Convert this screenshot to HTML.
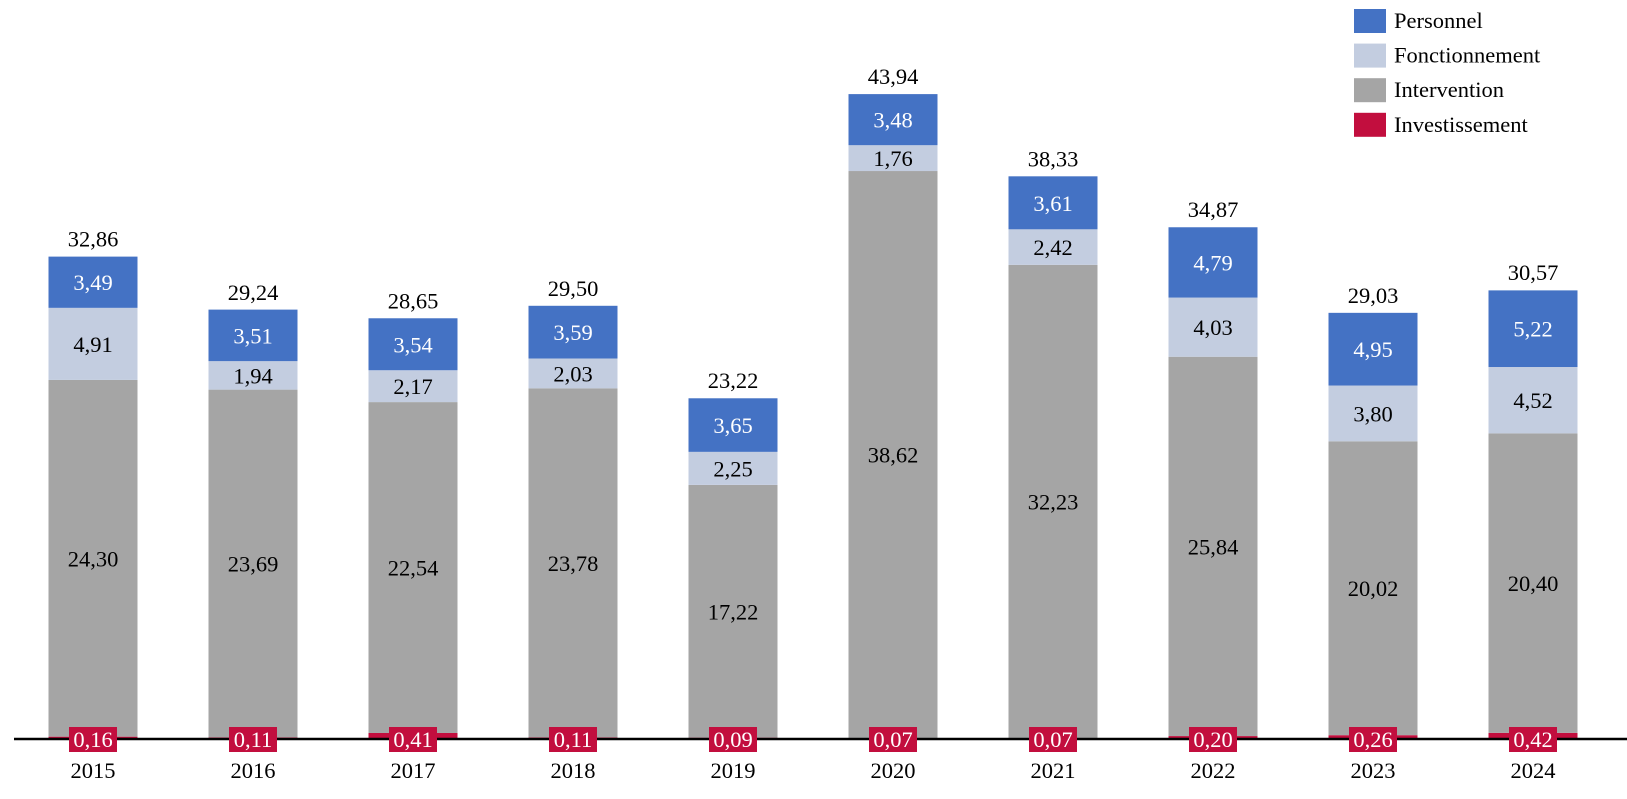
<!DOCTYPE html>
<html><head><meta charset="utf-8"><style>
html,body{margin:0;padding:0;background:#fff;}
svg{display:block;font-family:"Liberation Serif",serif;}
</style></head><body>
<svg id="chart" width="1627" height="799" viewBox="0 0 1627 799" xmlns="http://www.w3.org/2000/svg"></svg>
<script>
const years = ["2015","2016","2017","2018","2019","2020","2021","2022","2023","2024"];
const investissement = [0.16,0.11,0.41,0.11,0.09,0.07,0.07,0.20,0.26,0.42];
const intervention = [24.30,23.69,22.54,23.78,17.22,38.62,32.23,25.84,20.02,20.40];
const fonctionnement = [4.91,1.94,2.17,2.03,2.25,1.76,2.42,4.03,3.80,4.52];
const personnel = [3.49,3.51,3.54,3.59,3.65,3.48,3.61,4.79,4.95,5.22];
const totals = [32.86,29.24,28.65,29.50,23.22,43.94,38.33,34.87,29.03,30.57];

const NS="http://www.w3.org/2000/svg";
const svg=document.getElementById('chart');
const base=739, ppu=14.68, x0=93, step=160, bw=89, fs=22.5;
const yS=v=>base-v*ppu;
const xS=i=>x0+i*step;
const fmt=v=>v.toFixed(2).replace('.',',');
function mk(tag,attrs,parent){const e=document.createElementNS(NS,tag);for(const k in attrs)e.setAttribute(k,attrs[k]);(parent||svg).appendChild(e);return e;}
const series=[
 {name:'investissement',vals:investissement,color:'#c20e3e'},
 {name:'intervention',vals:intervention,color:'#a5a5a5',txt:'#000'},
 {name:'fonctionnement',vals:fonctionnement,color:'#c3cde0',txt:'#000'},
 {name:'personnel',vals:personnel,color:'#4472c4',txt:'#fff'}
];
years.forEach((yr,i)=>{
  const g=mk('g',{});
  
  
  let cum=0;
  series.forEach(s=>{
    const v=s.vals[i];
    const r=mk('rect',{x:xS(i)-bw/2,y:yS(cum+v),width:bw,height:v*ppu,fill:s.color},g);
    
    
    if(s.txt){
      const t=mk('text',{x:xS(i),y:yS(cum+v/2)+8,'text-anchor':'middle','font-size':fs,fill:s.txt},g);
      
      
      t.textContent=fmt(v);
    }
    cum+=v;
  });
  const tt=mk('text',{x:xS(i),y:yS(totals[i])-10,'text-anchor':'middle','font-size':fs,fill:'#000'},g);
  
  
  tt.textContent=fmt(totals[i]);
  const yl=mk('text',{x:xS(i),y:778,'text-anchor':'middle','font-size':fs,fill:'#000'},g);
  
  
  yl.textContent=yr;
});
const ax=mk('line',{x1:14,x2:1627,y1:base,y2:base,stroke:'#000','stroke-width':2.5});


years.forEach((yr,i)=>{
  const g=mk('g',{});
  
  
  mk('rect',{x:xS(i)-24,y:727,width:48,height:25,fill:'#c20e3e'},g);
  const t=mk('text',{x:xS(i),y:747,'text-anchor':'middle','font-size':fs,fill:'#fff'},g);
  t.textContent=fmt(investissement[i]);
});
const legend=[['Personnel','#4472c4'],['Fonctionnement','#c3cde0'],['Intervention','#a5a5a5'],['Investissement','#c20e3e']];
legend.forEach((l,k)=>{
  const g=mk('g',{});
  
  
  const y=9+k*34.6;
  mk('rect',{x:1354,y:y,width:32,height:24,fill:l[1]},g);
  const t=mk('text',{x:1394,y:y+19,'font-size':fs,fill:'#000'},g);
  t.textContent=l[0];
});
</script>
</body></html>
